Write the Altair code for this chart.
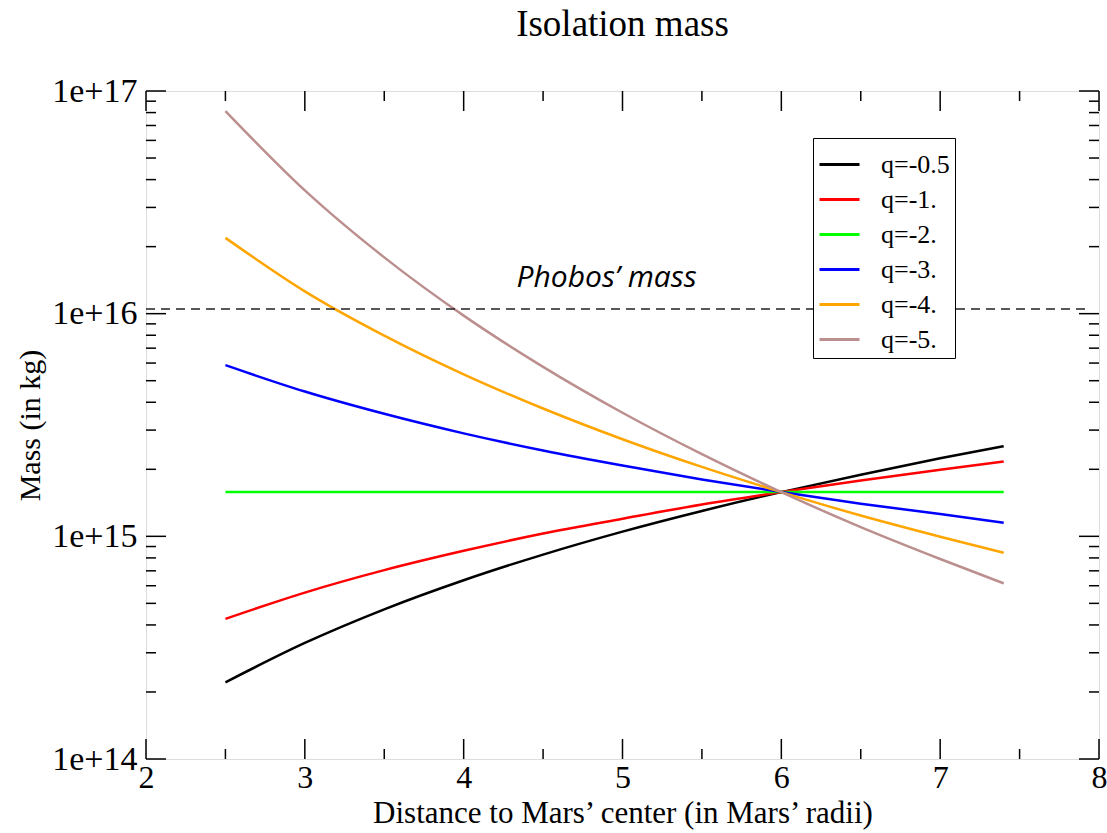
import altair as alt
import pandas as pd

# ---- data ----
r = [2.5, 3.0, 3.5, 4.0, 4.5, 5.0, 5.5, 6.0, 6.5, 7.0, 7.4]
series_names = ["q=-0.5", "q=-1.", "q=-2.", "q=-3.", "q=-4.", "q=-5."]
m_q05 = [2.21e14, 3.32e14, 4.70e14, 6.35e14, 8.28e14, 1.05e15, 1.30e15, 1.58e15, 1.89e15, 2.24e15, 2.54e15]
m_q1 = [4.26e14, 5.59e14, 7.05e14, 8.61e14, 1.03e15, 1.20e15, 1.39e15, 1.58e15, 1.78e15, 1.99e15, 2.17e15]
m_q2 = [1.58e15, 1.58e15, 1.58e15, 1.58e15, 1.58e15, 1.58e15, 1.58e15, 1.58e15, 1.58e15, 1.58e15, 1.58e15]
m_q3 = [5.87e15, 4.47e15, 3.55e15, 2.90e15, 2.43e15, 2.08e15, 1.80e15, 1.58e15, 1.40e15, 1.26e15, 1.15e15]
m_q4 = [2.19e16, 1.26e16, 7.97e15, 5.34e15, 3.75e15, 2.73e15, 2.05e15, 1.58e15, 1.24e15, 9.96e14, 8.43e14]
m_q5 = [8.13e16, 3.58e16, 1.79e16, 9.80e15, 5.77e15, 3.59e15, 2.34e15, 1.58e15, 1.10e15, 7.91e14, 6.15e14]
colors = ["#000000", "#ff0000", "#00ff00", "#0000ff", "#ffa500", "#bc8f8f"]

phobos_x = [2.0, 7.92]
phobos_mass = [1.05e16, 1.05e16]
phobos_label_x = [4.9]
phobos_label_y = [1.45e16]

x_major = [2, 3, 4, 5, 6, 7, 8]
x_minor = [2.5, 3.5, 4.5, 5.5, 6.5, 7.5]
y_major = [1e14, 1e15, 1e16, 1e17]
y_minor = [k * 10.0 ** n for n in (14, 15, 16) for k in range(2, 10)]

W, H = 953, 668
SERIF = "Liberation Serif"

rows = []
for name, vals in zip(series_names, [m_q05, m_q1, m_q2, m_q3, m_q4, m_q5]):
    for xi, yi in zip(r, vals):
        rows.append({"r": xi, "m": yi, "q": name})
df = pd.DataFrame(rows)

xscale = alt.Scale(domain=[2, 8], nice=False, zero=False)
yscale = alt.Scale(type="log", domain=[1e14, 1e17], nice=False)

x_axis = alt.Axis(
    values=x_major, format="d", title="Distance to Mars\u2019 center (in Mars\u2019 radii)",
    labelFont=SERIF, labelFontSize=32, labelColor="black", labelPadding=3,
    labelFlush=False, labelOverlap=False, ticks=False, tickSize=0, domain=False, grid=False,
    titleFont=SERIF, titleFontSize=31, titleFontWeight="normal", titleColor="black", titlePadding=5)
y_axis = alt.Axis(
    values=y_major, labelExpr="'1e+' + round(log(datum.value)/LN10)", title="Mass (in kg)",
    labelFont=SERIF, labelFontSize=34, labelColor="black", labelPadding=9,
    labelFlush=False, labelOverlap=False, ticks=False, tickSize=0, domain=False, grid=False,
    titleFont=SERIF, titleFontSize=30, titleFontWeight="normal", titleColor="black", titlePadding=6)

lines = alt.Chart(df).mark_line(strokeWidth=2.5, interpolate="monotone").encode(
    x=alt.X("r:Q", scale=xscale, axis=x_axis),
    y=alt.Y("m:Q", scale=yscale, axis=y_axis),
    color=alt.Color("q:N", sort=series_names,
                    scale=alt.Scale(domain=series_names, range=colors),
                    legend=alt.Legend(title=None, orient="none", legendX=667, legendY=47,
                                      strokeColor="black", fillColor="white", padding=5,
                                      symbolType="stroke", symbolSize=1600, symbolStrokeWidth=3,
                                      labelFont=SERIF, labelFontSize=26, labelColor="black",
                                      labelOffset=20, rowPadding=0)),
)

phobos_df = pd.DataFrame({"r": phobos_x, "m": phobos_mass})
phobos = alt.Chart(phobos_df).mark_line(color="#222222", strokeWidth=1.5, strokeDash=[9, 6]).encode(
    x=alt.X("r:Q", scale=xscale, axis=x_axis),
    y=alt.Y("m:Q", scale=yscale, axis=y_axis),
)

label_df = pd.DataFrame({"r": phobos_label_x, "m": phobos_label_y, "t": ["Phobos\u2019 mass"]})
label = alt.Chart(label_df).mark_text(font="Open Sans", fontStyle="italic", fontSize=30,
                                      color="black", align="center", baseline="middle").encode(
    x=alt.X("r:Q", scale=xscale, axis=x_axis),
    y=alt.Y("m:Q", scale=yscale, axis=y_axis),
    text="t:N",
)

def xticks(vals, length):
    d = pd.DataFrame({"r": vals})
    base = alt.Chart(d).mark_rule(color="black", strokeWidth=1.5)
    bottom = base.encode(x=alt.X("r:Q", scale=xscale, axis=x_axis), y=alt.value(H), y2=alt.value(H - length))
    top = base.encode(x=alt.X("r:Q", scale=xscale, axis=x_axis), y=alt.value(0), y2=alt.value(length))
    return [bottom, top]

def yticks(vals, length):
    d = pd.DataFrame({"m": vals})
    base = alt.Chart(d).mark_rule(color="black", strokeWidth=1.5)
    left = base.encode(y=alt.Y("m:Q", scale=yscale, axis=y_axis), x=alt.value(0), x2=alt.value(length))
    right = base.encode(y=alt.Y("m:Q", scale=yscale, axis=y_axis), x=alt.value(W), x2=alt.value(W - length))
    return [left, right]

layers = [lines, phobos, label] + xticks(x_major, 20) + xticks(x_minor, 10) + yticks(y_major, 20) + yticks(y_minor, 10)

chart = alt.layer(*layers).properties(
    width=W, height=H,
    title=alt.TitleParams("Isolation mass", font=SERIF, fontSize=37, fontWeight="normal",
                          color="black", anchor="middle", offset=30),
    padding={"left": 146, "top": 91, "right": 8, "bottom": 74},
    autosize=alt.AutoSizeParams(type="none"),
).configure_view(stroke="black", strokeWidth=1.5).configure(background="white")

chart.save("out.html", embed_options={"renderer": "svg", "actions": False})
